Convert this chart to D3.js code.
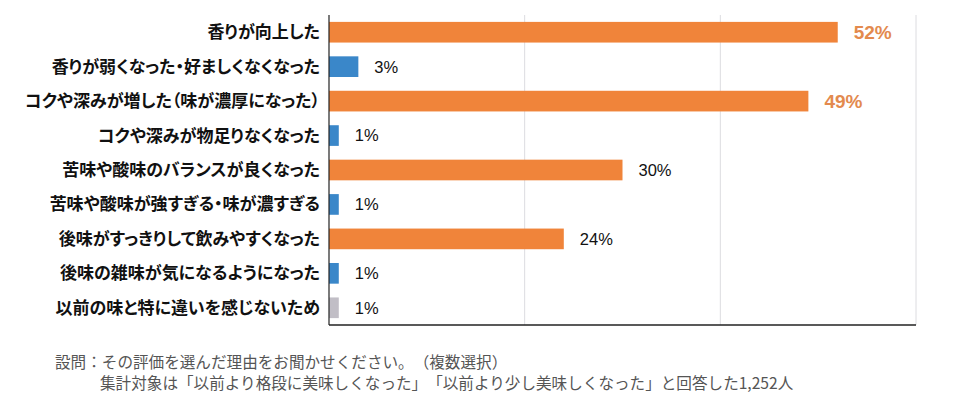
<!DOCTYPE html>
<html><head><meta charset="utf-8">
<script src="https://cdn.jsdelivr.net/npm/d3@7"></script>
<style>body{margin:0;background:#fff;}svg{display:block;}text{text-spacing-trim:space-all;}.cat{font-feature-settings:"palt";}</style>
</head><body>
<svg id="c" width="960" height="412"></svg>
<script>
const categories = ["香りが向上した","香りが弱くなった・好ましくなくなった","コクや深みが増した（味が濃厚になった）","コクや深みが物足りなくなった","苦味や酸味のバランスが良くなった","苦味や酸味が強すぎる・味が濃すぎる","後味がすっきりして飲みやすくなった","後味の雑味が気になるようになった","以前の味と特に違いを感じないため"];
const values = [52,3,49,1,30,1,24,1,1];
const kinds = ["pos","neg","pos","neg","pos","neg","pos","neg","neutral"];
const highlight = [true,false,true,false,false,false,false,false,false];
const ticks = [0,20,40,60];
const footer = ["設問：その評価を選んだ理由をお聞かせください。（複数選択）","集計対象は「以前より格段に美味しくなった」「以前より少し美味しくなった」と回答した1,252人"];

const colors = {pos:"#f0843a", neg:"#3a87c9", neutral:"#c1bec6"};
const font = "'Noto Sans CJK JP','Noto Sans',sans-serif";
const svg = d3.select("#c");
const L=329, R=916, T=15, B=325;
const x = d3.scaleLinear().domain([0,60]).range([L,R]);
const y = d3.scaleBand().domain(categories).range([T,B]).paddingInner(0.4).paddingOuter(0.2);

svg.append("g").selectAll("line").data(ticks.slice(1)).join("line")
  .attr("x1",d=>x(d)).attr("x2",d=>x(d)).attr("y1",T).attr("y2",B)
  .attr("stroke","#dcdce0").attr("stroke-width",1);

svg.append("g").selectAll("rect").data(values).join("rect")
  .attr("x",L).attr("y",(d,i)=>y(categories[i]))
  .attr("width",d=>x(d)-L).attr("height",y.bandwidth())
  .attr("fill",(d,i)=>colors[kinds[i]]);

svg.append("line").attr("x1",L).attr("x2",L).attr("y1",T).attr("y2",B).attr("stroke","#222").attr("stroke-width",1.2);
svg.append("line").attr("x1",L).attr("x2",R).attr("y1",B).attr("y2",B).attr("stroke","#222").attr("stroke-width",1.5);

svg.append("g").selectAll("text").data(categories).join("text")
  .attr("class","cat")
  .attr("x",320).attr("y",d=>y(d)+y.bandwidth()/2).attr("dy","0.35em")
  .attr("text-anchor","end").attr("font-family",font).attr("font-weight","bold")
  .attr("font-size",17).attr("fill","#111").text(d=>d);

svg.append("g").selectAll("text").data(values).join("text")
  .attr("x",d=>x(d)+16).attr("y",(d,i)=>y(categories[i])+y.bandwidth()/2).attr("dy","0.36em")
  .attr("font-family","'Liberation Sans',Arial,sans-serif")
  .attr("font-weight",(d,i)=>highlight[i]?"bold":"normal")
  .attr("font-size",(d,i)=>highlight[i]?19:16.5)
  .attr("fill",(d,i)=>highlight[i]?"#e38a4e":"#111")
  .text(d=>d+"%");

svg.append("text").attr("x",55).attr("y",368).attr("font-family",font).attr("font-size",15.6).attr("fill","#555").text(footer[0]);
svg.append("text").attr("x",100).attr("y",389).attr("font-family",font).attr("font-size",15.6).attr("fill","#555").text(footer[1]);
</script>
</body></html>
